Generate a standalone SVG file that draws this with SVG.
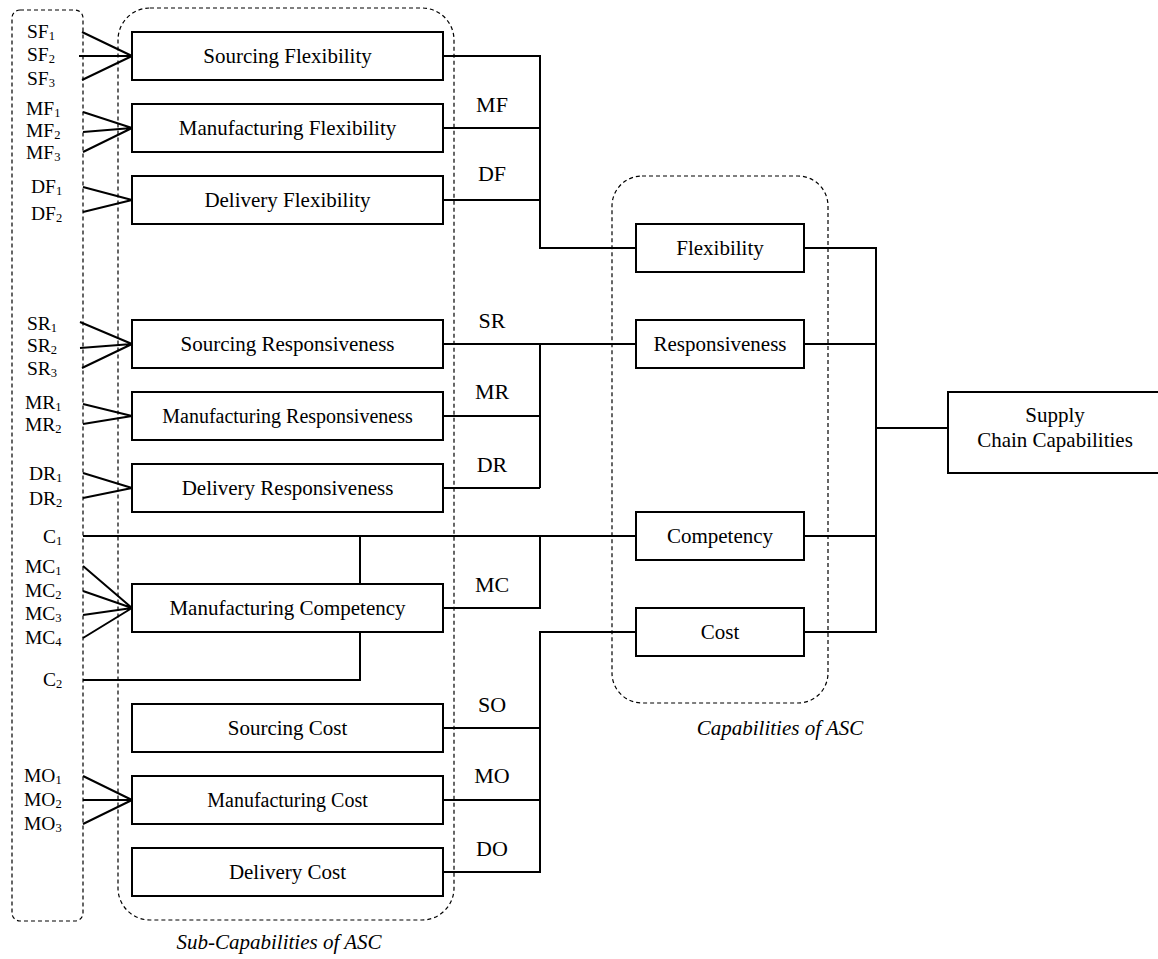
<svg xmlns="http://www.w3.org/2000/svg" width="1158" height="959" viewBox="0 0 1158 959">
<style>
text{font-family:"Liberation Serif","Times New Roman",serif;fill:#000}
.box{fill:#fff;stroke:#000;stroke-width:2}
.t{font-size:21px;text-anchor:middle}
.t20{font-size:20px;text-anchor:middle}
.lab{font-size:19.5px}
.sub{font-size:12.5px}
.ed{font-size:22px;text-anchor:middle}
.it{font-size:21px;font-style:italic;text-anchor:middle}
.dash{fill:none;stroke:#000;stroke-width:1.2;stroke-dasharray:4 3}
.c{fill:none;stroke:#000;stroke-width:2}
</style>
<rect id="group-inputs" class="dash" x="12" y="10" width="71" height="911" rx="8"/>
<rect id="group-sub" class="dash" x="118" y="8" width="336" height="912" rx="32"/>
<rect id="group-cap" class="dash" x="612" y="176" width="216" height="527" rx="30"/>
<g id="connectors" class="c">
<path d="M82 32L132 56M79 56L132 56M82 80L132 56"/>
<path d="M83 112L132 128M83 132L132 128M83 152L132 128"/>
<path d="M83 187L132 200M83 212L132 200"/>
<path d="M80 322L132 344M80 348L132 344M82 368L132 344"/>
<path d="M83 404L132 416M83 424L132 416"/>
<path d="M83 473L132 488M83 498L132 488"/>
<path d="M83 566L132 608M83 591L132 608M83 615L132 608M83 638L132 608"/>
<path d="M83 776L132 800M83 800L132 800M83 824L132 800"/>
<path d="M83 536H636M83 680H360V536"/>
<path d="M443 56H540V248H636M443 128H540M443 200H540"/>
<path d="M443 344H636M540 344V488M443 416H540M443 488H540"/>
<path d="M443 608H540V536"/>
<path d="M636 632H540V872H443M443 728H540M443 800H540"/>
<path d="M804 248H876V632H804M804 344H876M804 536H876M876 428H948"/>
</g>
<g id="n-sf"><rect class="box" x="132" y="32" width="311" height="48"/><text class="t" x="287.5" y="63">Sourcing Flexibility</text></g>
<g id="n-mf"><rect class="box" x="132" y="104" width="311" height="48"/><text class="t" x="287.5" y="135">Manufacturing Flexibility</text></g>
<g id="n-df"><rect class="box" x="132" y="176" width="311" height="48"/><text class="t" x="287.5" y="207">Delivery Flexibility</text></g>
<g id="n-sr"><rect class="box" x="132" y="320" width="311" height="48"/><text class="t" x="287.5" y="351">Sourcing Responsiveness</text></g>
<g id="n-mr"><rect class="box" x="132" y="392" width="311" height="48"/><text class="t20" x="287.5" y="423">Manufacturing Responsiveness</text></g>
<g id="n-dr"><rect class="box" x="132" y="464" width="311" height="48"/><text class="t" x="287.5" y="495">Delivery Responsiveness</text></g>
<g id="n-mc"><rect class="box" x="132" y="584" width="311" height="48"/><text class="t" x="287.5" y="615">Manufacturing Competency</text></g>
<g id="n-so"><rect class="box" x="132" y="704" width="311" height="48"/><text class="t" x="287.5" y="735">Sourcing Cost</text></g>
<g id="n-mo"><rect class="box" x="132" y="776" width="311" height="48"/><text class="t20" x="287.5" y="807">Manufacturing Cost</text></g>
<g id="n-do"><rect class="box" x="132" y="848" width="311" height="48"/><text class="t" x="287.5" y="879">Delivery Cost</text></g>
<g id="n-flex"><rect class="box" x="636" y="224" width="168" height="48"/><text class="t" x="720" y="255">Flexibility</text></g>
<g id="n-resp"><rect class="box" x="636" y="320" width="168" height="48"/><text class="t" x="720" y="351">Responsiveness</text></g>
<g id="n-comp"><rect class="box" x="636" y="512" width="168" height="48"/><text class="t" x="720" y="543">Competency</text></g>
<g id="n-cost"><rect class="box" x="636" y="608" width="168" height="48"/><text class="t" x="720" y="639">Cost</text></g>
<g id="n-scc"><rect class="box" x="948" y="392" width="214" height="81"/><text class="t" x="1055" y="422">Supply</text><text class="t" x="1055" y="447">Chain Capabilities</text></g>
<g id="edge-labels">
<text class="ed" x="492" y="112">MF</text>
<text class="ed" x="492" y="181">DF</text>
<text class="ed" x="492" y="328">SR</text>
<text class="ed" x="492" y="399">MR</text>
<text class="ed" x="492" y="472">DR</text>
<text class="ed" x="492" y="592">MC</text>
<text class="ed" x="492" y="712">SO</text>
<text class="ed" x="492" y="783">MO</text>
<text class="ed" x="492" y="856">DO</text>
</g>
<g id="inputs">
<text class="lab" x="27" y="38">SF<tspan class="sub" dy="2">1</tspan></text>
<text class="lab" x="27" y="61">SF<tspan class="sub" dy="2">2</tspan></text>
<text class="lab" x="27" y="85">SF<tspan class="sub" dy="2">3</tspan></text>
<text class="lab" x="26" y="115">MF<tspan class="sub" dy="2">1</tspan></text>
<text class="lab" x="26" y="137">MF<tspan class="sub" dy="2">2</tspan></text>
<text class="lab" x="26" y="159">MF<tspan class="sub" dy="2">3</tspan></text>
<text class="lab" x="31" y="193">DF<tspan class="sub" dy="2">1</tspan></text>
<text class="lab" x="31" y="220">DF<tspan class="sub" dy="2">2</tspan></text>
<text class="lab" x="27" y="330">SR<tspan class="sub" dy="2">1</tspan></text>
<text class="lab" x="27" y="352">SR<tspan class="sub" dy="2">2</tspan></text>
<text class="lab" x="27" y="375">SR<tspan class="sub" dy="2">3</tspan></text>
<text class="lab" x="25" y="409">MR<tspan class="sub" dy="2">1</tspan></text>
<text class="lab" x="25" y="431">MR<tspan class="sub" dy="2">2</tspan></text>
<text class="lab" x="29" y="480">DR<tspan class="sub" dy="2">1</tspan></text>
<text class="lab" x="29" y="505">DR<tspan class="sub" dy="2">2</tspan></text>
<text class="lab" x="43" y="543">C<tspan class="sub" dy="2">1</tspan></text>
<text class="lab" x="25" y="573">MC<tspan class="sub" dy="2">1</tspan></text>
<text class="lab" x="25" y="597">MC<tspan class="sub" dy="2">2</tspan></text>
<text class="lab" x="25" y="620">MC<tspan class="sub" dy="2">3</tspan></text>
<text class="lab" x="25" y="644">MC<tspan class="sub" dy="2">4</tspan></text>
<text class="lab" x="43" y="686">C<tspan class="sub" dy="2">2</tspan></text>
<text class="lab" x="24" y="782">MO<tspan class="sub" dy="2">1</tspan></text>
<text class="lab" x="24" y="806">MO<tspan class="sub" dy="2">2</tspan></text>
<text class="lab" x="24" y="830">MO<tspan class="sub" dy="2">3</tspan></text>
</g>
<text class="it" x="279" y="949">Sub-Capabilities of ASC</text>
<text class="it" x="780" y="735">Capabilities of ASC</text>
</svg>
